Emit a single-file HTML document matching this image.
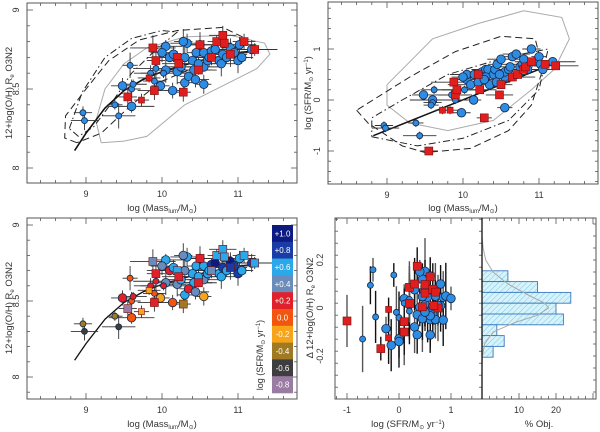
<!DOCTYPE html>
<html><head><meta charset="utf-8"><style>
html,body{margin:0;padding:0;background:#fff}
svg{display:block;font-family:"Liberation Sans",sans-serif}
</style></head><body>
<svg id="fig" width="600" height="432" viewBox="0 0 600 432" xmlns="http://www.w3.org/2000/svg">
<defs>
<pattern id="hatch" width="4" height="4" patternUnits="userSpaceOnUse" patternTransform="rotate(45)">
<rect width="4" height="4" fill="#d6f3fb"/><line x1="0" y1="0" x2="0" y2="4" stroke="#7fc8e0" stroke-width="1"/>
</pattern>
</defs>
</svg>
<script>
// ---------- data ----------
const galMass=[8.96,8.98,9.38,9.43,9.48,9.6,9.6,9.62,9.58,9.85,9.9,9.92,9.98,10.05,10.14,10.05,10.0,10.1,10.2,10.25,10.3,10.33,10.4,10.42,10.45,10.5,10.55,10.55,10.55,10.6,10.65,10.7,10.75,10.78,10.8,10.85,10.9,10.95,11.0,11.02,11.05,11.18,10.35,10.3,10.15,10.48,10.62,10.02,10.28,10.44,
9.73,9.9,9.83,9.88,9.92,10.2,10.28,10.22,10.5,10.65,10.72,10.8,10.82,10.9,11.08,11.22,9.55,10.48];
const galOH=[8.35,8.30,8.40,8.33,8.52,8.39,8.5,8.53,8.65,8.6,8.55,8.63,8.52,8.62,8.49,8.77,8.73,8.7,8.61,8.64,8.54,8.79,8.68,8.62,8.73,8.78,8.53,8.64,8.73,8.68,8.74,8.75,8.68,8.66,8.72,8.7,8.76,8.73,8.68,8.78,8.7,8.75,8.58,8.7,8.72,8.66,8.7,8.6,8.8,8.56,
8.43,8.49,8.57,8.76,8.68,8.7,8.48,8.66,8.78,8.7,8.8,8.84,8.79,8.72,8.8,8.75,8.45,8.62];
const galSFR=[-0.5,-0.55,-0.45,-0.7,0.1,0.0,-0.05,0.2,-0.1,0.1,0.0,0.2,-0.25,0.4,0.0,0.5,0.45,0.3,0.35,0.55,0.6,0.6,0.5,0.6,0.7,0.8,-0.15,0.45,0.55,0.6,0.85,0.9,0.65,0.7,0.8,0.6,1.0,0.75,0.85,0.7,0.6,0.75,0.3,0.45,0.5,0.5,0.65,0.2,0.4,0.35,
-0.2,0.1,-0.2,0.35,0.2,0.5,-0.35,0.2,0.3,0.45,0.5,0.6,0.65,0.75,0.7,0.67,-1.0,0.1];
const galRed=[0,0,0,0,0,0,0,0,0,0,0,0,0,0,0,0,0,0,0,0,0,0,0,0,0,0,0,0,0,0,0,0,0,0,0,0,0,0,0,0,0,0,0,0,0,0,0,0,0,0,
1,1,1,1,1,1,1,1,1,1,1,1,1,1,1,1,1,1];
const galBig=[0,0,0,0,1,1,0,0,0,0,0,0,1,1,1,1,1,1,1,1,1,1,1,1,1,1,1,1,1,1,1,1,1,1,1,1,1,1,1,1,1,1,1,1,1,1,1,0,1,1,
0,1,0,1,1,1,1,1,1,1,1,1,1,1,1,1,1,1];
const fitMass=[8.85,9.0,9.25,9.5,9.75,10,10.5,11,11.2];
const fitOH=[8.11,8.22,8.38,8.49,8.56,8.61,8.68,8.73,8.74];
const msMass=[8.82,11.2];
const msSFR=[-0.7,0.72];
const cTL_gray=[[9.2,8.16],[9.13,8.3],[9.25,8.5],[9.5,8.66],[9.8,8.76],[10.3,8.83],[10.9,8.84],[11.35,8.79],[11.42,8.72],[11.25,8.63],[10.8,8.52],[10.3,8.4],[9.8,8.2],[9.5,8.17],[9.2,8.16]];
const cTL_dash=[[8.88,8.16],[8.72,8.19],[8.73,8.33],[9.0,8.5],[9.3,8.68],[9.7,8.81],[10.2,8.87],[10.8,8.89],[11.1,8.82],[10.9,8.74],[10.5,8.65],[10.0,8.55],[9.6,8.4],[9.2,8.22],[8.88,8.16]];
const cTL_dd=[[8.78,8.25],[8.95,8.48],[9.25,8.7],[9.6,8.82],[10.0,8.87],[10.2,8.86],[9.9,8.74],[9.6,8.6],[9.35,8.42],[9.1,8.26],[8.9,8.2],[8.78,8.25]];
const cTR_gray=[[9.0,0.3],[9.3,0.75],[9.6,1.2],[10.2,1.5],[10.8,1.75],[11.3,1.62],[11.4,1.2],[11.2,0.6],[10.9,0.2],[10.4,-0.4],[9.8,-0.6],[9.3,-0.45],[9.0,-0.1],[9.0,0.3]];
const cTR_dash=[[8.6,-0.2],[8.75,-0.45],[9.2,-0.9],[9.5,-1.03],[10.1,-0.95],[10.6,-0.6],[10.9,-0.1],[11.05,0.6],[10.95,1.2],[10.5,1.25],[9.9,0.95],[9.3,0.45],[8.6,-0.2]];
const cTR_dd=[[8.8,-0.72],[9.4,-0.9],[10.0,-0.75],[10.6,-0.4],[11.0,0.2],[11.12,1.0],[10.6,0.85],[9.8,0.5],[9.2,0.0],[8.8,-0.35],[8.8,-0.72]];
const histEdges=[0.155,0.11,0.065,0.02,-0.025,-0.07,-0.115,-0.16,-0.205];
const histPct=[7,15,24,20,22,4,6,3];
const gaussD=[0.3,0.25,0.2,0.15,0.1,0.05,0.02,0,-0.03,-0.06,-0.1,-0.15,-0.2,-0.25];
const gaussP=[0,0.3,1,3,7,13,17,18,15,9,3,0.7,0.1,0];
const cbLabels=["+1.0","+0.8","+0.6","+0.4","+0.2","0.0","-0.2","-0.4","-0.6","-0.8"];
const cbValues=[1.0,0.8,0.6,0.4,0.2,0.0,-0.2,-0.4,-0.6,-0.8];
const cbColors=["#0c1a82","#1a3ca6","#2aa8ea","#6a8cba","#e0202a","#f2560e","#f8a418","#a07a22","#3e3e40","#9a7ca2"];

// ---------- helpers ----------
const NS="http://www.w3.org/2000/svg";
const svg=document.getElementById('fig');
function mk(tag,attrs,parent){const e=document.createElementNS(NS,tag);for(const k in attrs)e.setAttribute(k,attrs[k]);(parent||svg).appendChild(e);return e;}
function lin(d0,d1,r0,r1){return v=>r0+(v-d0)*(r1-r0)/(d1-d0);}
function interp(xs,ys,x){if(x<=xs[0])return ys[0];for(let i=1;i<xs.length;i++){if(x<=xs[i]){const t=(x-xs[i-1])/(xs[i]-xs[i-1]);return ys[i-1]+t*(ys[i]-ys[i-1]);}}return ys[ys.length-1];}
function sfrColor(s){let best=0,bd=1e9;cbValues.forEach((v,i)=>{const d=Math.abs(v-s);if(d<bd){bd=d;best=i;}});return cbColors[best];}

function frame(name,x0,y0,x1,y1,xs,ys,xt,yt,lblOff){
  lblOff=lblOff||8;
  const g=mk('g',{});
  
  
  mk('rect',{x:x0,y:y0,width:x1-x0,height:y1-y0,fill:'none',stroke:'#555','stroke-width':1},g);
  for(let v=xt.min;v<=xt.max+1e-9;v+=xt.minor){const X=xs(v);if(X<x0||X>x1)continue;const major=Math.abs(v/xt.major-Math.round(v/xt.major))<1e-6;const L=major?6:3;
    mk('line',{x1:X,y1:y1,x2:X,y2:y1-L,stroke:'#555','stroke-width':0.8},g);mk('line',{x1:X,y1:y0,x2:X,y2:y0+L,stroke:'#555','stroke-width':0.8},g);}
  for(let v=yt.min;v<=yt.max+1e-9;v+=yt.minor){const Y=ys(v);if(Y<y0||Y>y1)continue;const major=Math.abs(v/yt.major-Math.round(v/yt.major))<1e-6;const L=major?6:3;
    mk('line',{x1:x0,y1:Y,x2:x0+L,y2:Y,stroke:'#555','stroke-width':0.8},g);mk('line',{x1:x1,y1:Y,x2:x1-L,y2:Y,stroke:'#555','stroke-width':0.8},g);}
  xt.labels.forEach(v=>{const t=mk('text',{x:xs(v),y:y1+14,'font-size':9,'text-anchor':'middle',fill:'#333'},g);t.textContent=xt.fmt(v);});
  yt.labels.forEach(v=>{const Y=ys(v);const X=x0-lblOff;const t=mk('text',{x:X,y:Y,'font-size':9,'text-anchor':'middle',fill:'#333',transform:`rotate(-90 ${X} ${Y})`},g);t.textContent=yt.fmt(v);});
  return g;
}
function pathFrom(pts,xs,ys){return pts.map((p,i)=>(i?'L':'M')+xs(p[0]).toFixed(1)+','+ys(p[1]).toFixed(1)).join('');}
function massLabel(cx,y){const t=mk('text',{x:cx,y:y,'font-size':9.5,'text-anchor':'middle',fill:'#333'});
  t.innerHTML='log  (Mass<tspan font-size="6" dy="2">lum</tspan><tspan dy="-2">/M</tspan><tspan font-size="6" dy="2">⊙</tspan><tspan dy="-2">)</tspan>';}
function ohLabel(x,cy,delta){const t=mk('text',{x:x,y:cy,'font-size':9.5,'text-anchor':'middle',fill:'#333',transform:`rotate(-90 ${x} ${cy})`});
  t.innerHTML=(delta?'Δ 12+log(O/H) R':'12+log(O/H) R')+'<tspan font-size="6" dy="2">e</tspan><tspan dy="-2"> O3N2</tspan>';}
function sfrLabel(x,y,rot,fs){const t=mk('text',{x:x,y:y,'font-size':fs||9.5,'text-anchor':'middle',fill:'#333',transform:rot?`rotate(-90 ${x} ${y})`:''});
  t.innerHTML='log  (SFR/M<tspan font-size="6" dy="2">⊙</tspan><tspan dy="-2"> yr</tspan><tspan font-size="6" dy="-3">−1</tspan><tspan dy="3">)</tspan>';}
function marker(g,X,Y,red,big,fill){
  let e;
  if(red){const s=big?8:6;e=mk('rect',{x:X-s/2,y:Y-s/2,width:s,height:s,fill:fill||'#e01e1e',stroke:'#7a1010','stroke-width':0.6},g);}
  else{e=mk('circle',{cx:X,cy:Y,r:big?4.3:3,fill:fill||'#2e8ce2',stroke:'#16284a','stroke-width':0.8},g);}
  
  
}
function errbar(g,X,Y,dx,dy){mk('line',{x1:X-dx,y1:Y,x2:X+dx,y2:Y,stroke:'#333','stroke-width':0.9},g);mk('line',{x1:X,y1:Y-dy,x2:X,y2:Y+dy,stroke:'#333','stroke-width':0.9},g);}
const errM=[0.12,0.18,0.1,0.22,0.15,0.3],errY=[0.04,0.06,0.03,0.08,0.05];
const N=galMass.length;

// ---------- panel TL ----------
{const x0=27,x1=297,y0=3,y1=183;const xs=lin(9,10,86,162),ys=lin(8.5,9,89,10);
 frame('panel-mass-metallicity',x0,y0,x1,y1,xs,ys,{min:8.2,max:11.8,minor:0.2,major:1,labels:[9,10,11],fmt:v=>v},{min:7.9,max:9.05,minor:0.1,major:0.5,labels:[8,8.5,9],fmt:v=>v});
 const g=mk('g',{});
 [[cTL_gray,'#aaa','none'],[cTL_dash,'#222','7,4'],[cTL_dd,'#222','7,3,1.5,3']].forEach(c=>{const p=mk('path',{d:pathFrom(c[0],xs,ys),fill:'none',stroke:c[1],'stroke-width':1,'stroke-dasharray':c[2]},g);});
 const f=mk('path',{d:pathFrom(fitMass.map((m,i)=>[m,fitOH[i]]),xs,ys),fill:'none',stroke:'#111','stroke-width':1.6},g);
 for(let i=0;i<N;i++)errbar(g,xs(galMass[i]),ys(galOH[i]),errM[i%6]*76,errY[i%5]*158);
 for(let i=0;i<N;i++)marker(g,xs(galMass[i]),ys(galOH[i]),galRed[i],galBig[i]);
 massLabel(162,211);ohLabel(12,93);}

// ---------- panel TR ----------
{const x0=328,x1=598,y0=2,y1=184;const xs=lin(9,10,387,463),ys=lin(0,1,100,49);
 frame('panel-mass-sfr',x0,y0,x1,y1,xs,ys,{min:8.2,max:11.8,minor:0.2,major:1,labels:[9,10,11],fmt:v=>v},{min:-1.6,max:1.9,minor:0.2,major:1,labels:[-1,0,1],fmt:v=>v});
 const g=mk('g',{});
 [[cTR_gray,'#aaa','none'],[cTR_dash,'#222','7,4'],[cTR_dd,'#222','7,3,1.5,3']].forEach(c=>{const p=mk('path',{d:pathFrom(c[0],xs,ys),fill:'none',stroke:c[1],'stroke-width':1,'stroke-dasharray':c[2]},g);});
 const f=mk('path',{d:pathFrom(msMass.map((m,i)=>[m,msSFR[i]]),xs,ys),fill:'none',stroke:'#111','stroke-width':1.5},g);
 for(let i=0;i<N;i++)errbar(g,xs(galMass[i]),ys(galSFR[i]),errM[i%6]*76,0.08*51);
 for(let i=0;i<N;i++)marker(g,xs(galMass[i]),ys(galSFR[i]),galRed[i],galBig[i]);
 massLabel(463,211);sfrLabel(311,93,true);}

// ---------- panel BL ----------
{const x0=27,x1=297,y0=218,y1=399;const xs=lin(9,10,86,162),ys=lin(8.5,9,301,225);
 frame('panel-mass-metallicity-sfr-colored',x0,y0,x1,y1,xs,ys,{min:8.2,max:11.8,minor:0.2,major:1,labels:[9,10,11],fmt:v=>v},{min:7.9,max:9.05,minor:0.1,major:0.5,labels:[8,8.5,9],fmt:v=>v});
 const g=mk('g',{});
 const f=mk('path',{d:pathFrom(fitMass.map((m,i)=>[m,fitOH[i]]),xs,ys),fill:'none',stroke:'#111','stroke-width':1.3},g);
 for(let i=0;i<N;i++)errbar(g,xs(galMass[i]),ys(galOH[i]),errM[i%6]*76,errY[i%5]*152);
 for(let i=0;i<N;i++)marker(g,xs(galMass[i]),ys(galOH[i]),galRed[i],galBig[i],sfrColor(galSFR[i]));
 const cb=mk('g',{});
 const cy0=225,ch=16.8;
 cbLabels.forEach((l,i)=>{const r=mk('rect',{x:272,y:cy0+i*ch,width:21,height:ch+0.3,fill:cbColors[i]},cb);
   const t=mk('text',{x:282.5,y:cy0+i*ch+ch/2+3,'font-size':8,'text-anchor':'middle',fill:'#fff'},cb);t.textContent=l;});
 massLabel(162,427);ohLabel(12,308);sfrLabel(263,355,true,9);}

// ---------- panel BR ----------
{const x0=335,xm=482,x1=596,y0=218,y1=399;const xs=lin(0,1,399,451),ys=lin(0,0.2,308,260),hx=lin(0,10,482,519);
 frame('panel-delta-metallicity-sfr',x0,y0,xm,y1,xs,ys,{min:-1.2,max:1.6,minor:0.2,major:1,labels:[-1,0,1],fmt:v=>v},{min:-0.38,max:0.38,minor:0.05,major:0.1,labels:[-0.2,0,0.2],fmt:v=>v},12);
 const hg=mk('g',{});
 mk('rect',{x:xm,y:y0,width:x1-xm,height:y1-y0,fill:'none',stroke:'#555'},hg);
 for(let p=0;p<=30;p+=2){const X=hx(p);const L=p%10===0?6:3;mk('line',{x1:X,y1:y1,x2:X,y2:y1-L,stroke:'#555','stroke-width':0.8},hg);mk('line',{x1:X,y1:y0,x2:X,y2:y0+L,stroke:'#555','stroke-width':0.8},hg);}
 for(let v=-0.35;v<=0.36;v+=0.05){mk('line',{x1:x1,y1:ys(v),x2:x1-3,y2:ys(v),stroke:'#555','stroke-width':0.8},hg);}
 [10,20].forEach(p=>{const t=mk('text',{x:hx(p),y:y1+14,'font-size':9,'text-anchor':'middle',fill:'#333'},hg);t.textContent=p;});
 const tt=mk('text',{x:539,y:427,'font-size':9.5,'text-anchor':'middle',fill:'#333'},hg);tt.textContent='% Obj.';
 histPct.forEach((p,i)=>{const yt=ys(histEdges[i]),yb=ys(histEdges[i+1]);const r=mk('rect',{x:xm,y:yt,width:hx(p)-xm,height:yb-yt,fill:'url(#hatch)',stroke:'#3a78c0','stroke-width':0.9},hg);});
 const gp=mk('path',{d:pathFrom(gaussD.map((d,i)=>[gaussP[i],d]),hx,ys),fill:'none',stroke:'#aaa','stroke-width':1},hg);
 mk('line',{x1:xm,y1:y0,x2:xm,y2:y1,stroke:'#111','stroke-width':1.3},hg);
 const g=mk('g',{});
 const dl=[];for(let i=0;i<N;i++)dl.push(galOH[i]-interp(fitMass,fitOH,galMass[i]));
 for(let i=0;i<N;i++){const X=xs(galSFR[i]),Y=ys(dl[i]);const e=(0.05+0.03*(i%4))*237;mk('line',{x1:X,y1:Y-e,x2:X,y2:Y+e,stroke:i%3?'#111':'#555','stroke-width':1.4},g);}
 for(let i=0;i<N;i++)marker(g,xs(galSFR[i]),ys(dl[i]),galRed[i],galBig[i]);
 ohLabel(313,308,true);sfrLabel(408,427,false);}
</script>
</body></html>
